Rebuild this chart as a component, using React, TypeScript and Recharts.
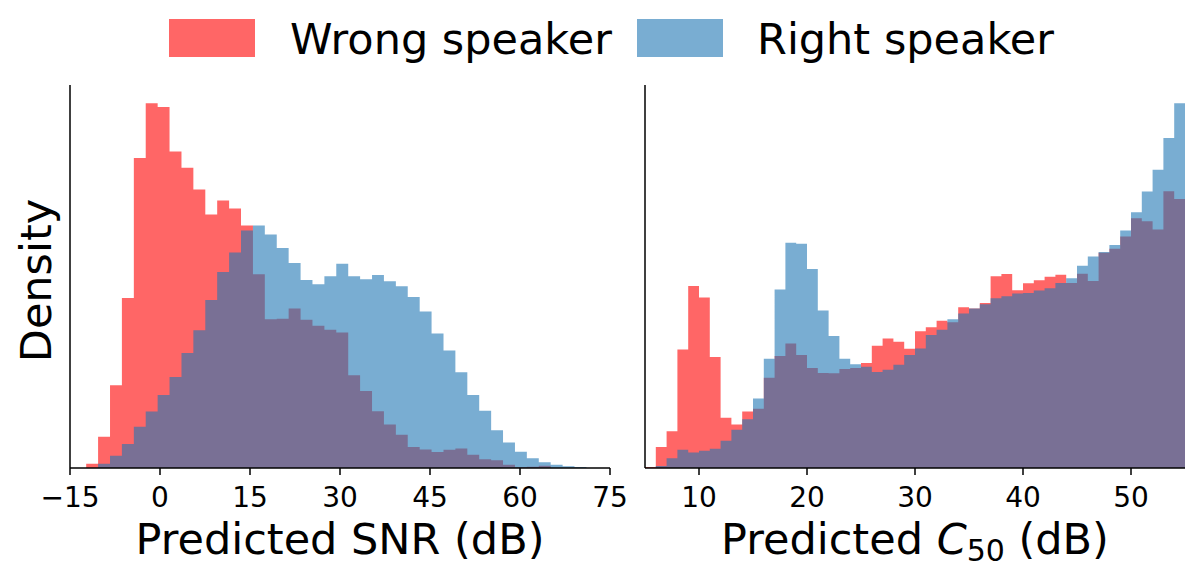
import { AreaChart, Area, XAxis, YAxis, Label } from "recharts";

// bin edges (predicted SNR panel)
const snrEdges = [
  -12.3, -10.32, -8.33, -6.35, -4.36, -2.38, -0.39, 1.59, 3.58, 5.56, 7.55,
  9.53, 11.52, 13.5, 15.49, 17.47, 19.46, 21.44, 23.43, 25.41, 27.4, 29.38,
  31.37, 33.35, 35.34, 37.32, 39.31, 41.29, 43.28, 45.26, 47.25, 49.23, 51.22,
  53.2, 55.19, 57.17, 59.16, 61.14, 63.13, 65.11, 67.1, 69.08, 71.07,
];
const snrWrong = [
  13, 94, 249, 512, 933, 1098, 1087, 953, 904, 838, 763, 805, 781, 730, 583,
  448, 449, 480, 446, 428, 416, 408, 279, 232, 171, 131, 100, 63, 56, 48, 55,
  59, 40, 26, 23, 10, 2, 4, 7, 0, 0, 0,
];
const snrRight = [
  0, 13, 37, 72, 124, 170, 220, 274, 346, 415, 506, 590, 649, 715, 730, 703,
  662, 617, 566, 553, 577, 615, 577, 568, 581, 562, 547, 515, 471, 405, 354,
  288, 220, 172, 114, 77, 49, 29, 17, 10, 5, 3,
];
const snrTicks = [-15, 0, 15, 30, 45, 60, 75];

// predicted C50 panel
const c50Edges = [
  5, 6, 7, 8, 9, 10, 11, 12, 13, 14, 15, 16, 17, 18, 19, 20, 21, 22, 23, 24, 25,
  26, 27, 28, 29, 30, 31, 32, 33, 34, 35, 36, 37, 38, 39, 40, 41, 42, 43, 44,
  45, 46, 47, 48, 49, 50, 51, 52, 53, 54, 55,
];
const c50Wrong = [
  3, 63, 111, 357, 548, 513, 334, 151, 131, 170, 178, 272, 337, 375, 340, 301,
  286, 285, 298, 301, 316, 368, 390, 380, 359, 412, 424, 443, 439, 484, 480,
  497, 577, 584, 535, 556, 565, 576, 582, 557, 585, 563, 648, 660, 697, 752,
  743, 718, 833, 810,
];
const c50Right = [
  0, 6, 29, 55, 47, 52, 58, 82, 115, 147, 209, 329, 537, 678, 675, 599, 474,
  397, 329, 312, 305, 289, 296, 311, 340, 360, 400, 416, 448, 465, 480, 493,
  511, 517, 525, 527, 534, 541, 557, 571, 609, 637, 650, 671, 715, 770, 832,
  898, 993, 1098,
];
const c50Ticks = [10, 20, 30, 40, 50];

const FONT = "DejaVu Sans";
const RED = "#ff0000";
const BLUE = "#1f77b4";
const BIG = 43;

// one row per bin edge; the last edge repeats the last bin so stepAfter closes it
function toSteps(edges: number[], wrong: number[], right: number[]) {
  return edges.map((x, i) => {
    const j = Math.min(i, wrong.length - 1);
    return { x, wrong: wrong[j], right: right[j] };
  });
}

const snrData = toSteps(snrEdges, snrWrong, snrRight);
const c50Data = toSteps(c50Edges, c50Wrong, c50Right);
const snrTop = Math.max(...snrWrong, ...snrRight) * 1.05;
const c50Top = Math.max(...c50Wrong, ...c50Right) * 1.05;

const fmtTick = (v: number) => (v < 0 ? `\u2212${-v}` : `${v}`);
const tickStyle = { fontSize: 28, fill: "#000", fontFamily: FONT };

function Panel({
  data,
  top,
  domain,
  ticks,
  width,
  left,
  title,
  yTitle,
}: {
  data: { x: number; wrong: number; right: number }[];
  top: number;
  domain: [number, number];
  ticks: number[];
  width: number;
  left: number;
  title: (cx: number, y: number) => React.ReactNode;
  yTitle?: string;
}) {
  return (
    <AreaChart
      width={width}
      height={572}
      data={data}
      margin={{ top: 85, right: width - 540 - left - 1, left, bottom: 0 }}
    >
      <XAxis
        type="number"
        dataKey="x"
        domain={domain}
        ticks={ticks}
        allowDataOverflow
        height={104}
        tick={tickStyle}
        tickFormatter={fmtTick}
        tickSize={7}
        tickMargin={12}
        axisLine={{ stroke: "#000", strokeWidth: 1.5 }}
        tickLine={{ stroke: "#000", strokeWidth: 1.5 }}
      >
        <Label
          content={(props: any) => {
            const vb = props.viewBox;
            return title(vb.x + vb.width / 2, vb.y + 86);
          }}
        />
      </XAxis>
      <YAxis
        width={1}
        domain={[0, top]}
        allowDataOverflow
        tick={false}
        tickLine={false}
        axisLine={{ stroke: "#000", strokeWidth: 1.5 }}
      >
        {yTitle && (
          <Label
            content={(props: any) => {
              const vb = props.viewBox;
              const x = vb.x + vb.width - 19;
              const y = vb.y + vb.height / 2 + 4;
              return (
                <text
                  x={x}
                  y={y}
                  transform={`rotate(-90, ${x}, ${y})`}
                  textAnchor="middle"
                  fontSize={BIG}
                  fontFamily={FONT}
                  fill="#000"
                >
                  {yTitle}
                </text>
              );
            }}
          />
        )}
      </YAxis>
      <Area
        type="stepAfter"
        dataKey="wrong"
        name="Wrong speaker"
        fill={RED}
        fillOpacity={0.6}
        stroke="none"
        dot={false}
        activeDot={false}
        isAnimationActive={false}
      />
      <Area
        type="stepAfter"
        dataKey="right"
        name="Right speaker"
        fill={BLUE}
        fillOpacity={0.6}
        stroke="none"
        dot={false}
        activeDot={false}
        isAnimationActive={false}
      />
    </AreaChart>
  );
}

export default function App() {
  return (
    <div
      style={{
        position: "fixed",
        left: 0,
        top: 0,
        width: 1196,
        height: 572,
        background: "#fff",
        fontFamily: FONT,
      }}
    >
      <svg
        width={1196}
        height={80}
        style={{ position: "absolute", left: 0, top: 0 }}
      >
        <rect x={169} y={19} width={86} height={38} fill={RED} fillOpacity={0.6} />
        <text x={290} y={54} fontSize={BIG} fontFamily={FONT} fill="#000">
          Wrong speaker
        </text>
        <rect x={637} y={19} width={86} height={38} fill={BLUE} fillOpacity={0.6} />
        <text x={757} y={54} fontSize={BIG} fontFamily={FONT} fill="#000">
          Right speaker
        </text>
      </svg>
      <div style={{ position: "absolute", left: 0, top: 0 }}>
        <Panel
          data={snrData}
          top={snrTop}
          domain={[-15, 75]}
          ticks={snrTicks}
          width={640}
          left={69}
          yTitle="Density"
          title={(cx, y) => (
            <text x={cx} y={y} textAnchor="middle" fontSize={BIG} fontFamily={FONT} fill="#000">
              Predicted SNR (dB)
            </text>
          )}
        />
      </div>
      <div style={{ position: "absolute", left: 620, top: 0 }}>
        <Panel
          data={c50Data}
          top={c50Top}
          domain={[5, 55]}
          ticks={c50Ticks}
          width={576}
          left={24}
          title={(cx, y) => (
            <text x={cx} y={y} textAnchor="middle" fontSize={BIG} fontFamily={FONT} fill="#000">
              Predicted <tspan fontStyle="italic">C</tspan>
              <tspan fontSize={30} dy={7}>50</tspan>
              <tspan dy={-7}> (dB)</tspan>
            </text>
          )}
        />
      </div>
    </div>
  );
}
